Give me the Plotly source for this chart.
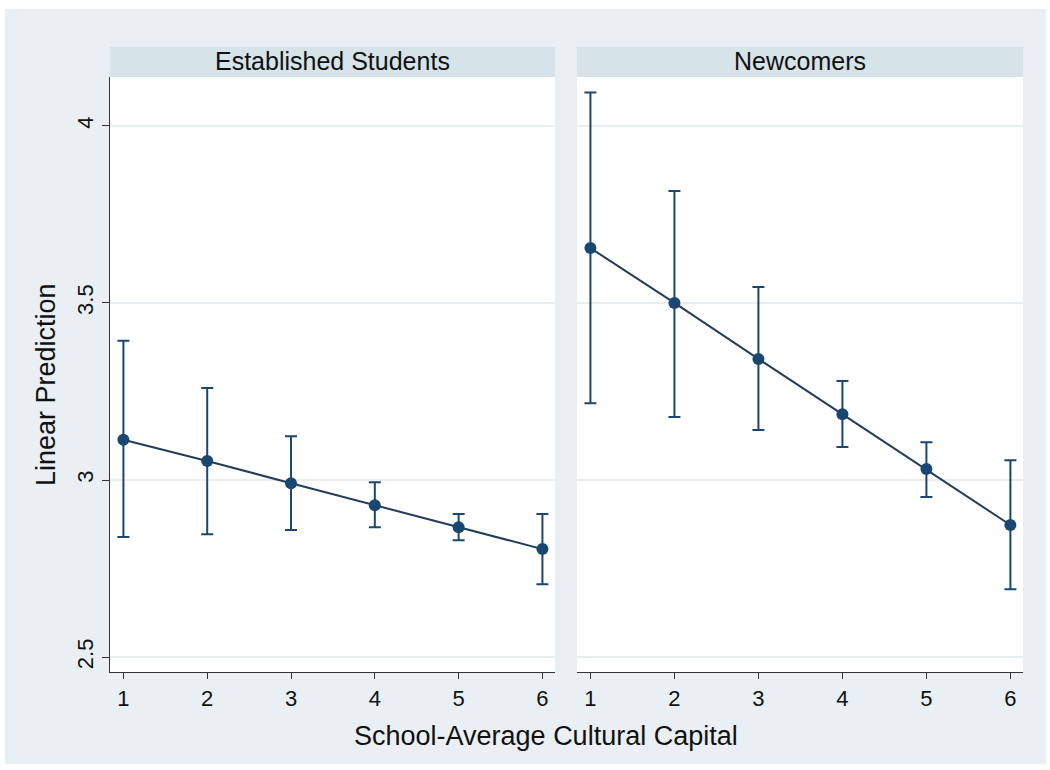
import plotly.graph_objects as go

x_vals = [1, 2, 3, 4, 5, 6]
x_ticks = [1, 2, 3, 4, 5, 6]
y_ticks = [2.5, 3, 3.5, 4]
y_tick_text = ["2.5", "3", "3.5", "4"]

panel_titles = ["Established Students", "Newcomers"]

est_mean = [3.114, 3.054, 2.991, 2.929, 2.867, 2.805]
est_upper = [3.393, 3.260, 3.124, 2.994, 2.904, 2.904]
est_lower = [2.839, 2.847, 2.859, 2.867, 2.830, 2.706]

new_mean = [3.655, 3.500, 3.342, 3.186, 3.031, 2.873]
new_upper = [4.094, 3.816, 3.545, 3.280, 3.107, 3.056]
new_lower = [3.217, 3.178, 3.141, 3.093, 2.952, 2.692]

x_title = "School-Average Cultural Capital"
y_title = "Linear Prediction"

NAVY = "#1a476f"
LINE = "#223d5a"
OUTER_BG = "#e9eff2"
STRIP_BG = "#d6e3e9"
GRID = "#e9eff1"
FONT = "Liberation Sans, Arial, sans-serif"

W, H = 1050, 770

fig = go.Figure()

series = [(est_mean, est_upper, est_lower, "x", "y"),
          (new_mean, new_upper, new_lower, "x2", "y2")]
for mean, up, lo, xa, ya in series:
    fig.add_trace(go.Scatter(
        x=x_vals, y=mean, xaxis=xa, yaxis=ya,
        mode="lines+markers",
        line=dict(color=LINE, width=2),
        marker=dict(color=NAVY, size=12),
        error_y=dict(type="data", symmetric=False,
                     array=[u - m for u, m in zip(up, mean)],
                     arrayminus=[m - l for m, l in zip(mean, lo)],
                     color=NAVY, thickness=2, width=6),
        showlegend=False, hoverinfo="skip",
    ))

px = lambda v: v / W
py = lambda v: (H - v) / H

left_dom = [px(110), px(555)]
right_dom = [px(577), px(1023)]
y_dom = [py(672), py(77)]

xr = [0.84, 6.15]
yr = [2.458, 4.138]


def x_axis(dom, anchor):
    return dict(domain=dom, anchor=anchor, range=xr,
                tickmode="array", tickvals=x_ticks,
                ticks="outside", ticklen=6, tickwidth=1.2, tickcolor="#333",
                showline=True, linecolor="#333", linewidth=1.3,
                showgrid=False, zeroline=False,
                tickfont=dict(family=FONT, size=22, color="#111"))


fig.update_layout(
    width=W, height=H,
    margin=dict(l=0, r=0, t=0, b=0),
    paper_bgcolor="white",
    plot_bgcolor="white",
    font=dict(family=FONT, color="#111"),
    xaxis=x_axis(left_dom, "y"),
    xaxis2=x_axis(right_dom, "y2"),
    yaxis=dict(domain=y_dom, range=yr, anchor="x",
               tickmode="array", tickvals=y_ticks, ticktext=y_tick_text,
               tickangle=-90, ticks="outside", ticklen=7, tickwidth=1.2, tickcolor="#333",
               showline=True, linecolor="#333", linewidth=1.3,
               showgrid=True, gridcolor=GRID, gridwidth=1.5, zeroline=False,
               tickfont=dict(family=FONT, size=22, color="#111")),
    yaxis2=dict(domain=y_dom, range=yr, anchor="x2",
                tickmode="array", tickvals=y_ticks, showticklabels=False,
                ticks="", showline=False,
                showgrid=True, gridcolor=GRID, gridwidth=1.5, zeroline=False),
)

shapes = [
    dict(type="rect", xref="paper", yref="paper", layer="below",
         x0=px(5), x1=px(1046), y0=py(764), y1=py(9),
         fillcolor=OUTER_BG, line=dict(width=0)),
    dict(type="rect", xref="paper", yref="paper", layer="below",
         x0=left_dom[0], x1=left_dom[1], y0=y_dom[0], y1=y_dom[1],
         fillcolor="white", line=dict(width=0)),
    dict(type="rect", xref="paper", yref="paper", layer="below",
         x0=right_dom[0], x1=right_dom[1], y0=y_dom[0], y1=y_dom[1],
         fillcolor="white", line=dict(width=0)),
]
for dom in (left_dom, right_dom):
    shapes.append(dict(type="rect", xref="paper", yref="paper", layer="below",
                       x0=dom[0], x1=dom[1], y0=py(77), y1=py(47),
                       fillcolor=STRIP_BG, line=dict(width=0)))
fig.update_layout(shapes=shapes)

annotations = []
for dom, title in zip((left_dom, right_dom), panel_titles):
    annotations.append(dict(text=title, xref="paper", yref="paper",
                            x=(dom[0] + dom[1]) / 2, y=py(61),
                            xanchor="center", yanchor="middle", showarrow=False,
                            font=dict(family=FONT, size=25, color="#111")))
annotations.append(dict(text=x_title, xref="paper", yref="paper",
                        x=px(546), y=py(736), xanchor="center", yanchor="middle",
                        showarrow=False, font=dict(family=FONT, size=27, color="#111")))
annotations.append(dict(text=y_title, xref="paper", yref="paper",
                        x=px(46), y=py(385), xanchor="center", yanchor="middle",
                        textangle=-90, showarrow=False,
                        font=dict(family=FONT, size=27, color="#111")))
fig.update_layout(annotations=annotations)

fig.write_html("out.html", config={"displayModeBar": False},
               post_script="document.body.style.margin='0';")
